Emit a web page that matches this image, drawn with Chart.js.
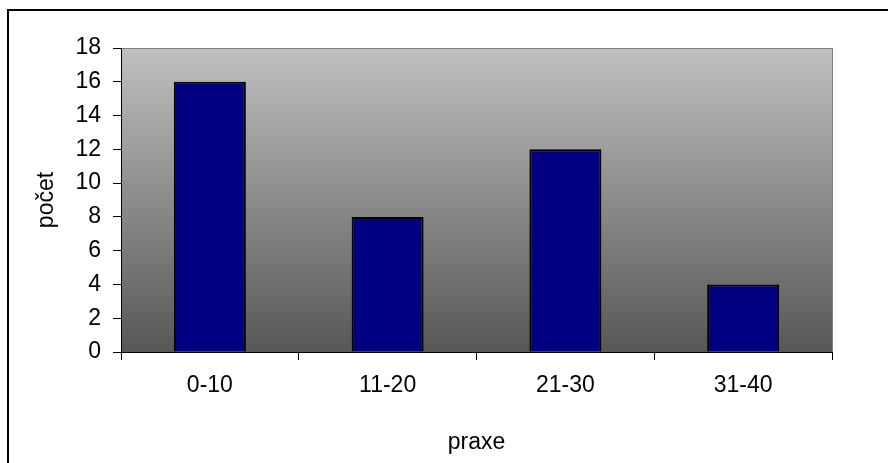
<!DOCTYPE html>
<html lang="cs">
<head>
    <meta charset="UTF-8">
    <title>praxe</title>
    <script src="https://cdn.jsdelivr.net/npm/chart.js"></script>
    <style>
        * { margin: 0; padding: 0; box-sizing: border-box; }
        body { background: #fff; width: 888px; height: 463px; overflow: hidden; }
        canvas { display: block; }
    </style>
</head>
<body>
<canvas id="chart" width="888" height="463"></canvas>
<script>
    // data
    const categories = ['0-10', '11-20', '21-30', '31-40'];
    const counts = [16, 8, 12, 4];
    const yMin = 0;
    const yMax = 18;
    const yStep = 2;
    const xTitle = 'praxe';
    const yTitle = 'počet';

    const font = { family: "'Liberation Sans', Arial, sans-serif", size: 23 };

    // gradient plot area + outer frame
    const backdrop = {
        id: 'backdrop',
        beforeDraw(chart) {
            const { ctx, chartArea: a } = chart;
            ctx.save();
            ctx.strokeStyle = '#000';
            ctx.lineWidth = 2;
            ctx.strokeRect(8, 10, chart.width + 10, chart.height + 10);
            const g = ctx.createLinearGradient(0, a.top, 0, a.bottom);
            g.addColorStop(0, '#c0c0c0');
            g.addColorStop(1, '#575757');
            ctx.fillStyle = g;
            ctx.fillRect(a.left, a.top, a.right - a.left, a.bottom - a.top);
            ctx.strokeStyle = '#808080';
            ctx.lineWidth = 1;
            ctx.strokeRect(a.left + 0.5, a.top + 0.5, a.right - a.left, a.bottom - a.top);
            ctx.restore();
        }
    };

    new Chart(document.getElementById('chart'), {
        type: 'bar',
        data: {
            labels: categories,
            datasets: [{
                label: yTitle,
                data: counts,
                backgroundColor: '#000080',
                borderColor: '#000',
                borderWidth: 2,
                categoryPercentage: 1,
                barPercentage: 0.405
            }]
        },
        options: {
            responsive: false,
            animation: false,
            layout: { padding: { left: 0, top: 48, right: 56, bottom: 0 } },
            plugins: {
                legend: { display: false },
                tooltip: { enabled: false }
            },
            scales: {
                x: {
                    afterFit(s) { s.height = 111; },
                    grid: { offset: true, drawOnChartArea: false, color: '#000', tickLength: 8 },
                    border: { color: '#000', width: 1 },
                    ticks: { color: '#000', font, padding: 12, maxRotation: 0 },
                    title: { display: true, text: xTitle, color: '#000', font, padding: { top: 0, bottom: 7 } }
                },
                y: {
                    min: yMin,
                    max: yMax,
                    afterFit(s) { s.width = 121; },
                    grid: { drawOnChartArea: false, color: '#000', tickLength: 8 },
                    border: { color: '#000', width: 1 },
                    ticks: { color: '#000', font, padding: 12, stepSize: yStep },
                    title: { display: true, text: yTitle, color: '#000', font, padding: { top: 33, bottom: 0 } }
                }
            }
        },
        plugins: [backdrop]
    });
</script>
</body>
</html>
